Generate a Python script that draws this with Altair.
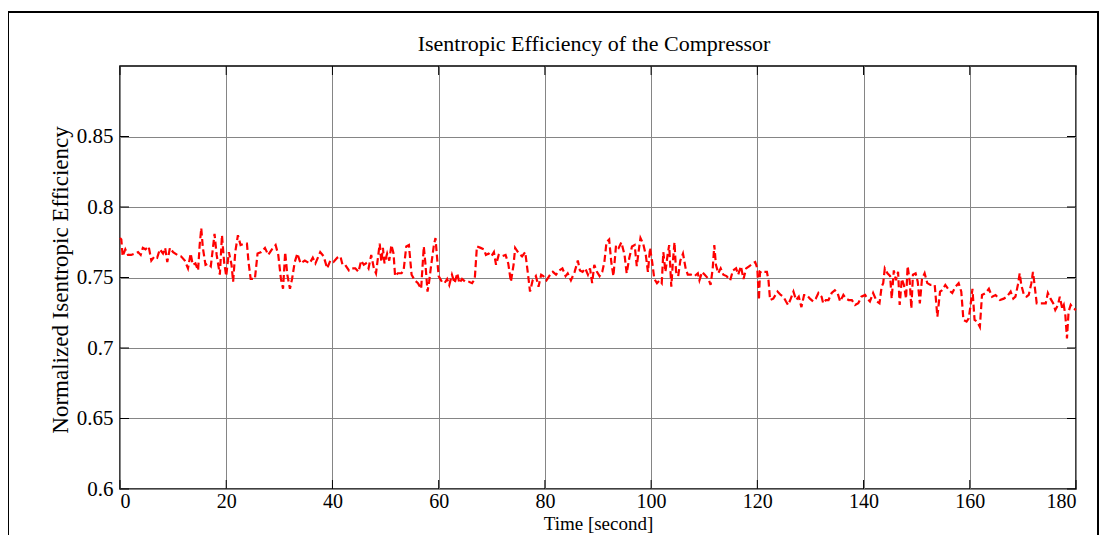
import altair as alt
import pandas as pd

# ---- data ----
seg1_time = [0.0, 0.25, 0.5, 1.0, 1.5, 2.1, 2.8, 3.4, 3.9, 4.3, 4.8, 5.4, 5.9, 6.5, 7.0,
             7.5, 8.1, 8.5, 8.9, 9.4, 10.0, 10.8, 11.5, 12.2, 12.8, 13.3, 13.7, 14.2, 14.7, 15.0,
             15.3, 15.6, 16.1, 16.6, 17.1, 17.5, 17.8, 18.2, 18.8, 19.2, 19.6, 20.0, 20.5, 21.0, 21.3,
             21.7, 22.2, 22.7, 23.4, 23.9, 24.2, 24.6, 25.4, 25.9, 26.6, 27.3, 27.9, 28.6, 29.3, 29.8,
             30.3, 30.7, 31.1, 31.5, 32.0, 32.4, 32.9, 33.4, 34.0, 34.8, 35.7, 36.3]
seg1_eff = [0.778, 0.777, 0.765, 0.770, 0.766, 0.766, 0.767, 0.768, 0.766, 0.771, 0.770, 0.772, 0.762, 0.765, 0.764,
            0.770, 0.767, 0.771, 0.761, 0.771, 0.768, 0.766, 0.765, 0.762, 0.7565, 0.767, 0.759, 0.760, 0.755, 0.773,
            0.785, 0.771, 0.759, 0.760, 0.758, 0.771, 0.781, 0.766, 0.752, 0.780, 0.761, 0.751, 0.768, 0.759, 0.747,
            0.768, 0.780, 0.773, 0.774, 0.774, 0.761, 0.749, 0.749, 0.767, 0.768, 0.771, 0.766, 0.770, 0.773, 0.766,
            0.749, 0.742, 0.768, 0.752, 0.742, 0.749, 0.761, 0.767, 0.760, 0.762, 0.760, 0.764]

seg2_time = [36.8, 37.7, 38.35, 39.0, 39.6, 40.2, 40.9, 41.5, 41.9, 42.4, 43.1, 43.7, 44.3, 44.9, 45.4,
             45.9, 46.3, 46.8, 47.3, 47.8, 48.2, 48.6, 48.9, 49.2, 49.5, 49.8, 50.3, 50.7, 51.1, 51.5,
             51.8, 52.3, 53.0, 53.4, 53.9, 54.4, 54.9, 55.5, 56.1, 56.7, 57.2, 57.5, 57.9, 58.2, 58.6,
             59.1, 59.4, 59.7, 60.0, 60.6, 61.1, 61.6, 62.0, 62.5, 63.0, 63.5, 63.9, 64.4, 65.0, 65.7,
             66.3, 66.8, 67.2, 67.9, 68.5, 68.9, 69.4, 69.9, 70.4, 70.8, 71.3, 71.9, 72.6, 73.1]
seg2_eff = [0.760, 0.768, 0.765, 0.7565, 0.762, 0.761, 0.764, 0.765, 0.759, 0.759, 0.755, 0.7565, 0.7565, 0.754, 0.762,
            0.759, 0.760, 0.7565, 0.766, 0.7565, 0.753, 0.765, 0.774, 0.761, 0.771, 0.760, 0.767, 0.762, 0.773, 0.767,
            0.751, 0.753, 0.753, 0.755, 0.772, 0.773, 0.752, 0.748, 0.746, 0.742, 0.772, 0.760, 0.740, 0.747, 0.759,
            0.773, 0.778, 0.764, 0.751, 0.747, 0.746, 0.749, 0.7447, 0.752, 0.746, 0.753, 0.746, 0.749, 0.747, 0.747,
            0.746, 0.749, 0.772, 0.771, 0.770, 0.766, 0.767, 0.765, 0.768, 0.759, 0.766, 0.765, 0.766, 0.760]

seg3_time = [73.6, 74.1, 74.4, 75.1, 75.7, 76.3, 76.8, 77.2, 77.7, 78.3, 78.8, 79.3, 79.7, 80.3, 81.0,
             81.5, 82.1, 82.7, 83.3, 83.9, 84.3, 84.9, 85.6, 86.2, 86.6, 87.1, 87.6, 88.1, 88.5, 88.9,
             89.3, 89.8, 90.3, 90.8, 91.2, 91.6, 92.1, 92.5, 92.9, 93.4, 93.9, 94.4, 95.0, 95.4, 95.9,
             96.4, 96.9, 97.3, 97.7, 98.0, 98.5, 99.0, 99.4, 99.8, 100.2, 100.6, 101.1, 101.6, 102.0, 102.3,
             102.7, 103.1, 103.4, 103.8, 104.1, 104.4, 104.7, 105.1, 105.5, 106.0, 106.5, 106.9, 107.5, 108.2, 108.8,
             109.1, 109.6]
seg3_eff = [0.747, 0.759, 0.771, 0.767, 0.765, 0.768, 0.753, 0.740, 0.748, 0.751, 0.7435, 0.752, 0.751, 0.748, 0.752,
            0.754, 0.752, 0.755, 0.7565, 0.751, 0.753, 0.748, 0.754, 0.762, 0.755, 0.754, 0.7565, 0.752, 0.7565, 0.746,
            0.759, 0.754, 0.751, 0.754, 0.761, 0.775, 0.777, 0.761, 0.751, 0.773, 0.771, 0.775, 0.766, 0.753, 0.764,
            0.772, 0.773, 0.758, 0.770, 0.778, 0.774, 0.766, 0.754, 0.771, 0.761, 0.749, 0.746, 0.748, 0.746, 0.768,
            0.754, 0.766, 0.773, 0.7435, 0.761, 0.775, 0.754, 0.751, 0.762, 0.767, 0.7565, 0.752, 0.752, 0.751, 0.753,
            0.748, 0.754]

seg4_time = [110.1, 110.8, 111.2, 111.6, 111.9, 112.2, 112.65, 113.1, 113.6, 114.2, 114.9, 115.4, 116.0, 116.4, 116.9,
             117.4, 117.9, 118.5, 119.1, 119.6, 120.0, 120.3, 120.5, 120.9, 121.3, 121.8, 122.1, 122.4, 123.0, 123.8,
             124.4, 124.9, 125.4, 125.8, 126.3, 126.8, 127.3, 127.8, 128.3, 128.8, 129.3, 129.9, 130.5, 131.0, 131.5,
             132.1, 132.4, 132.9, 133.4, 134.0, 134.6, 135.1, 135.6, 136.2, 136.7, 137.2, 137.8, 138.4, 139.0, 139.6,
             140.3, 140.7, 141.2, 141.8, 142.5, 143.0, 143.4, 143.7, 144.0, 144.5, 145.0, 145.3, 145.7, 146.1]
seg4_eff = [0.752, 0.749, 0.7447, 0.7565, 0.773, 0.759, 0.753, 0.7565, 0.752, 0.751, 0.748, 0.755, 0.7565, 0.752, 0.758,
            0.749, 0.7565, 0.758, 0.760, 0.761, 0.7565, 0.734, 0.754, 0.753, 0.754, 0.754, 0.748, 0.734, 0.735, 0.740,
            0.7376, 0.7364, 0.733, 0.7305, 0.735, 0.740, 0.734, 0.7364, 0.729, 0.7376, 0.7376, 0.735, 0.733, 0.735, 0.739,
            0.7364, 0.7317, 0.734, 0.734, 0.739, 0.741, 0.739, 0.733, 0.7376, 0.735, 0.734, 0.734, 0.7305, 0.7317, 0.7364,
            0.7376, 0.735, 0.733, 0.739, 0.733, 0.7317, 0.7435, 0.746, 0.7565, 0.753, 0.751, 0.735, 0.755, 0.748]

seg5_time = [146.5, 146.8, 147.2, 147.6, 148.0, 148.3, 148.7, 149.0, 149.3, 149.8, 150.2, 150.6, 151.0, 151.5, 152.0,
             152.6, 153.4, 153.9, 154.4, 154.8, 155.4, 156.1, 156.7, 157.3, 157.9, 158.4, 158.8, 159.4, 159.8, 160.1,
             160.5, 160.9, 161.4, 161.9, 162.3, 163.0, 163.6, 164.2, 164.85, 165.7, 166.4, 167.0, 167.7, 168.2, 168.6,
             169.05, 169.4, 169.7, 170.2, 170.7, 171.1, 171.6, 171.9, 172.2, 172.6, 173.3, 174.3, 174.7, 175.2, 175.7,
             176.1, 176.6, 176.95, 177.4, 177.7, 178.0, 178.3, 178.6, 179.0, 179.5, 180.0]
seg5_eff = [0.754, 0.7305, 0.749, 0.7447, 0.735, 0.758, 0.747, 0.728, 0.752, 0.753, 0.747, 0.7317, 0.749, 0.753, 0.746,
            0.7447, 0.7447, 0.7222, 0.740, 0.741, 0.7447, 0.741, 0.739, 0.7435, 0.746, 0.740, 0.720, 0.7187, 0.721, 0.729,
            0.742, 0.720, 0.7187, 0.715, 0.7376, 0.739, 0.742, 0.7364, 0.7376, 0.734, 0.735, 0.7364, 0.740, 0.735, 0.7364,
            0.7447, 0.753, 0.7447, 0.7376, 0.7364, 0.7376, 0.746, 0.754, 0.7447, 0.7317, 0.7317, 0.7317, 0.739, 0.735, 0.7317,
            0.727, 0.7305, 0.7364, 0.728, 0.7305, 0.723, 0.7068, 0.7257, 0.7305, 0.728, 0.727]

x_ticks = [0, 20, 40, 60, 80, 100, 120, 140, 160, 180]
y_ticks = [0.6, 0.65, 0.7, 0.75, 0.8, 0.85]
title_text = ["Isentropic Efficiency of the Compressor"]

time = seg1_time + seg2_time + seg3_time + seg4_time + seg5_time
eff = seg1_eff + seg2_eff + seg3_eff + seg4_eff + seg5_eff
df = pd.DataFrame({"Time": time, "Eff": eff})

W, H = 956, 423
FONT = "Liberation Serif"
TICK = 9

xs = alt.Scale(domain=[0, 180], nice=False, zero=False)
ys = alt.Scale(domain=[0.6, 0.9], nice=False, zero=False)

x_axis = alt.Axis(
    values=x_ticks, title="Time [second]", grid=True, gridColor="#858585", gridWidth=1,
    tickSize=0, domain=False, labelFont=FONT, labelFontSize=20, labelPadding=2,
    labelColor="black", titleFont=FONT, titleFontSize=19, titleFontWeight="normal",
    titleColor="black", titleY=34, titleBaseline="middle")
y_axis = alt.Axis(
    values=y_ticks, format=".2~f", title="Normalized Isentropic Efficiency", grid=True,
    gridColor="#858585", gridWidth=1, tickSize=0, domain=False, labelFont=FONT,
    labelFontSize=21, labelPadding=7, labelColor="black", titleFont=FONT, titleFontSize=23,
    titleFontWeight="normal", titleColor="black", titleX=-60, titleY=H / 2 + 2,
    titleAngle=270, titleBaseline="middle", titleAlign="center")

line = alt.Chart(df).mark_line(color="#ff0000", strokeWidth=2.2, strokeDash=[7, 3.5]).encode(
    x=alt.X("Time:Q", scale=xs, axis=x_axis),
    y=alt.Y("Eff:Q", scale=ys, axis=y_axis),
)

xt = pd.DataFrame({"Time": x_ticks})
yt = pd.DataFrame({"Eff": y_ticks})

bottom_ticks = alt.Chart(xt).mark_rule(color="black", strokeWidth=1).encode(
    x=alt.X("Time:Q", scale=xs, axis=x_axis), y=alt.value(H), y2=alt.value(H - TICK))
top_ticks = alt.Chart(xt).mark_rule(color="black", strokeWidth=1).encode(
    x=alt.X("Time:Q", scale=xs, axis=x_axis), y=alt.value(0), y2=alt.value(TICK))
left_ticks = alt.Chart(yt).mark_rule(color="black", strokeWidth=1).encode(
    y=alt.Y("Eff:Q", scale=ys, axis=y_axis), x=alt.value(0), x2=alt.value(TICK))
right_ticks = alt.Chart(yt).mark_rule(color="black", strokeWidth=1).encode(
    y=alt.Y("Eff:Q", scale=ys, axis=y_axis), x=alt.value(W), x2=alt.value(W - TICK))

frame = alt.Chart(pd.DataFrame({"a": [0]})).mark_rect(
    fill="white", fillOpacity=0, stroke="black", strokeWidth=2).encode(
    x=alt.value(-112), x2=alt.value(978), y=alt.value(-54), y2=alt.value(600))

title = alt.Chart(pd.DataFrame({"label": title_text})).mark_text(
    font=FONT, fontSize=22, color="black", align="center", baseline="middle").encode(
    text="label:N", x=alt.value(W / 2 - 4), y=alt.value(-22))

chart = alt.layer(line, bottom_ticks, top_ticks, left_ticks, right_ticks, frame, title).properties(
    width=W, height=H,
    padding={"left": 112, "top": 58, "right": 24, "bottom": 46},
    autosize=alt.AutoSizeParams(type="none"),
).configure_view(stroke="black", strokeWidth=1.5).configure_axis(
    labelFont=FONT, titleFont=FONT)

chart.save("out.html", embed_options={"renderer": "svg", "actions": False})
